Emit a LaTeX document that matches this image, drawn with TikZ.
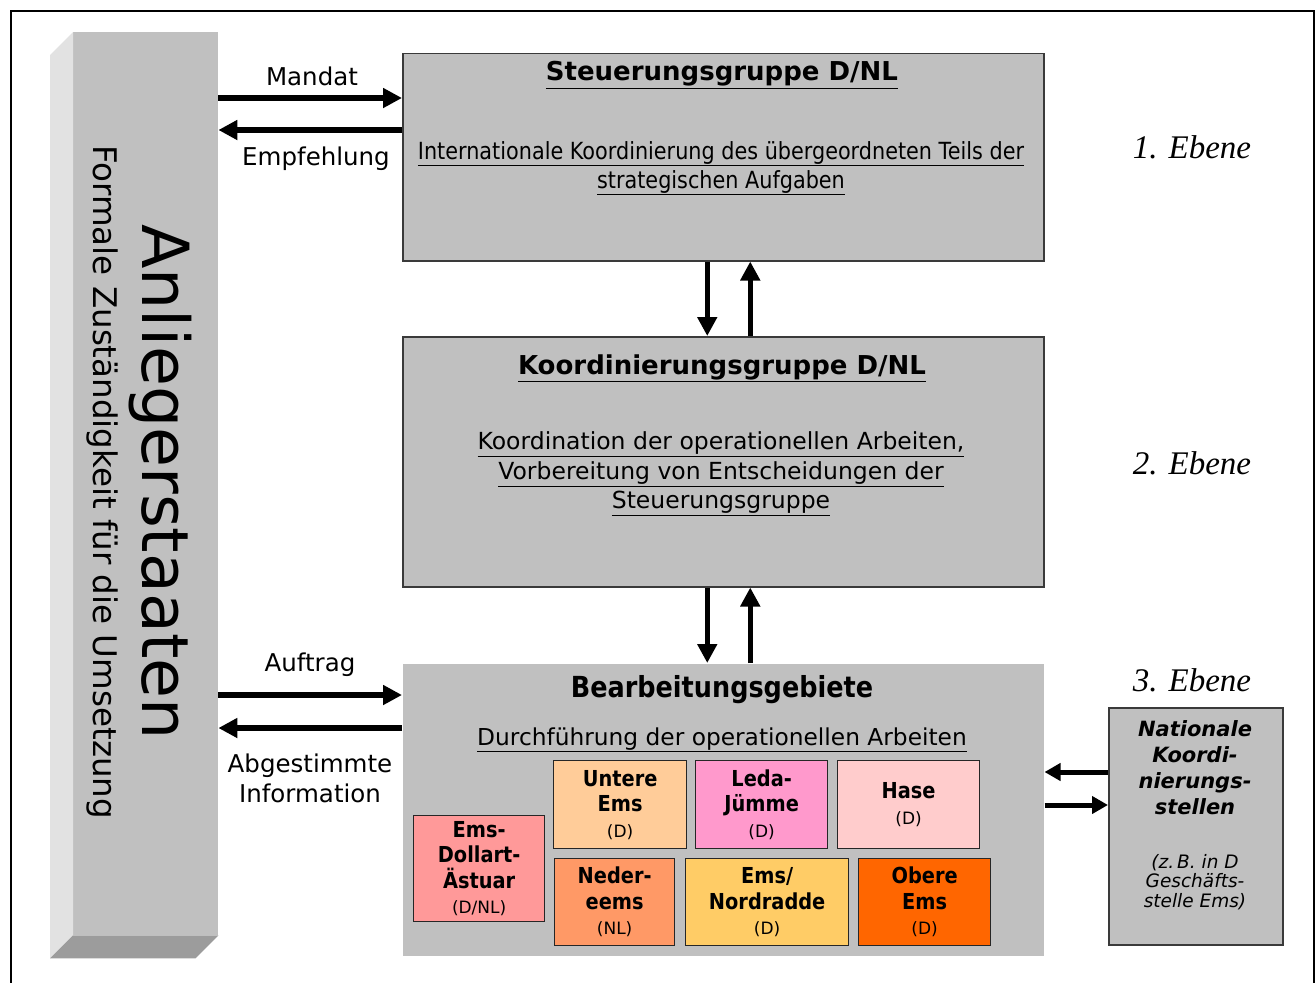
\documentclass[tikz,border=0pt]{standalone}
\usepackage{fontspec}
\setmainfont{DejaVu Sans}
\newfontfamily\tahoma{DejaVu Sans}[FakeStretch=0.88]
\newfontfamily\timesfont{Liberation Serif}
\usetikzlibrary{arrows.meta, calc, positioning}

\definecolor{boxgray}{HTML}{C0C0C0}
\definecolor{sidegray}{HTML}{E2E2E2}
\definecolor{footgray}{HTML}{9C9C9C}
\definecolor{framegray}{HTML}{3A3A3A}
\definecolor{emsdollart}{HTML}{FF9999}
\definecolor{untereems}{HTML}{FFCC99}
\definecolor{ledajuemme}{HTML}{FF99CC}
\definecolor{hase}{HTML}{FFCCCC}
\definecolor{nedereems}{HTML}{FF9966}
\definecolor{nordradde}{HTML}{FFCC66}
\definecolor{obereems}{HTML}{FF6600}

\newcommand\fs[2]{\fontsize{#1}{#2}\selectfont}
\newcommand\ulin[1]{\underline{#1\vphantom{g}}}

\tikzset{
  level/.style={draw=framegray, line width=1.5pt, fill=boxgray, anchor=north west, inner sep=0pt, minimum width=641pt},
  area/.style={draw=black!85, line width=1.3pt, anchor=north west, inner sep=0pt, align=center, font={\tahoma\fs{22}{25.5}}},
  flow/.style={line width=5.5pt, -{Triangle[length=19pt,width=19pt]}},
  smallflow/.style={line width=5pt, -{Triangle[length=16pt,width=17pt]}},
  label/.style={font={\fs{24.5}{30}}, align=center},
  ebene/.style={font={\timesfont\itshape\fs{33}{36}}},
  mark/.style={font={\normalfont\fs{17}{20}}}
}

\begin{document}
\begin{tikzpicture}[x=1pt, y=-1pt]
    \useasboundingbox (0,0) rectangle (1316,982);

    % frame
    \draw[line width=2pt] (11,995) -- (11,11) -- (1314,11) -- (1314,995);

    % Anliegerstaaten
    \node[fill=boxgray, anchor=north west, inner sep=0pt, minimum width=145pt, minimum height=903pt] (bar) at (73,32) {};
    \fill[sidegray] (bar.north west) -- (bar.south west) -- ++(-23,23) -- ($(bar.north west)+(-23,23)$) -- cycle;
    \fill[footgray] (bar.south west) -- (bar.south east) -- ++(-23,23) -- ($(bar.south west)+(-23,23)$) -- cycle;
    \node[rotate=-90, font={\fs{65}{70}}] (staaten) at (160,482) {Anliegerstaaten};
    \node[rotate=-90, font={\fs{32.5}{36}}] (formal) at (102,482) {Formale Zuständigkeit für die Umsetzung};

    % levels
    \node[level, minimum height=207pt] (steuer) at (402,53) {};
    \node[level, minimum height=250pt] (koord) at (402,336) {};
    \node[level, draw=none, minimum height=292pt] (bearb) at (402,663) {};

    \node[font={\bfseries\fs{26}{30}}] (steuerT) at (722,75) {\ulin{Steuerungsgruppe D/NL}};
    \node[font={\tahoma\fs{23.6}{29}}, align=center] (steuerB) at (721,168)
        {\ulin{Internationale Koordinierung des übergeordneten Teils der}\\\ulin{strategischen Aufgaben}};

    \node[font={\bfseries\fs{26}{30}}] (koordT) at (722,368) {\ulin{Koordinierungsgruppe D/NL}};
    \node[font={\fs{23.5}{29.5}}, align=center] (koordB) at (721,474)
        {\ulin{Koordination der operationellen Arbeiten,}\\\ulin{Vorbereitung von Entscheidungen der}\\\ulin{Steuerungsgruppe}};

    \node[font={\tahoma\bfseries\fs{29}{32}}] (bearbT) at (722,690) {Bearbeitungsgebiete};
    \node[font={\fs{23.3}{28}}] (bearbB) at (722,740) {\ulin{Durchführung der operationellen Arbeiten}};

    % Bearbeitungsgebiete
    \node[area, fill=emsdollart, minimum width=131pt, minimum height=106pt] (emsdollart) at (413,815)
        {\textbf{Ems-}\\\textbf{Dollart-}\\\textbf{Ästuar}\\{\normalfont\fs{17}{20}(D/NL)}};
    \node[area, fill=untereems, minimum width=133pt, minimum height=88pt] (untereems) at (553,760)
        {\textbf{Untere}\\\textbf{Ems}\\{\normalfont\fs{17}{20}(D)}};
    \node[area, fill=ledajuemme, minimum width=132pt, minimum height=88pt] (ledajuemme) at (695,760)
        {\textbf{Leda-}\\\textbf{Jümme}\\{\normalfont\fs{17}{20}(D)}};
    \node[area, fill=hase, minimum width=142pt, minimum height=88pt] (hase) at (837,760)
        {\textbf{Hase}\\{\normalfont\fs{17}{20}(D)}};
    \node[area, fill=nedereems, minimum width=120pt, minimum height=87pt] (nedereems) at (554,858)
        {\textbf{Neder-}\\\textbf{eems}\\{\normalfont\fs{17}{20}(NL)}};
    \node[area, fill=nordradde, minimum width=163pt, minimum height=87pt] (nordradde) at (685,858)
        {\textbf{Ems/}\\\textbf{Nordradde}\\{\normalfont\fs{17}{20}(D)}};
    \node[area, fill=obereems, minimum width=132pt, minimum height=87pt] (obereems) at (858,858)
        {\textbf{Obere}\\\textbf{Ems}\\{\normalfont\fs{17}{20}(D)}};

    % Nationale Koordinierungsstellen
    \node[level, minimum width=174pt, minimum height=237pt] (nat) at (1108,707) {};
    \node[font={\bfseries\itshape\fs{21}{26}}, align=center] (natname) at (1195,768) {Nationale\\Koordi-\\nierungs-\\stellen};
    \node[font={\itshape\fs{18.5}{19.5}}, align=center] (natbsp) at (1195,882) {(z.\,B. in D\\Geschäfts-\\stelle Ems)};

    % Ebenen
    \foreach \n/\y in {1/147, 2/463, 3/680}
        \node[ebene] (ebene\n) at (1192,\y) {\n. Ebene};

    % arrows
    \coordinate (mandat) at (0,98);
    \coordinate (empf) at (0,130);
    \coordinate (auftrag) at (0,695);
    \coordinate (info) at (0,728);
    \coordinate (natin) at (0,772);
    \coordinate (natout) at (0,805);

    \draw[flow] (bar.east |- mandat) -- (steuer.west |- mandat);
    \draw[flow] (steuer.west |- empf) -- (bar.east |- empf);
    \draw[flow] (bar.east |- auftrag) -- (bearb.west |- auftrag);
    \draw[flow] (bearb.west |- info) -- (bar.east |- info);
    \draw[smallflow] (nat.west |- natin) -- (bearb.east |- natin);
    \draw[smallflow] (bearb.east |- natout) -- (nat.west |- natout);

    \draw[flow, line width=5pt] ([xshift=-16pt]steuer.south) -- ([xshift=-16pt]koord.north);
    \draw[flow, line width=5pt] ([xshift=27pt]koord.north) -- ([xshift=27pt]steuer.south);
    \draw[flow, line width=5pt] ([xshift=-16pt]koord.south) -- ([xshift=-16pt]bearb.north);
    \draw[flow, line width=5pt] ([xshift=27pt]bearb.north) -- ([xshift=27pt]koord.south);

    \node[label] (mandatL) at (312,76) {Mandat};
    \node[label] (empfL) at (316,159) {Empfehlung};
    \node[label] (auftragL) at (310,665) {Auftrag};
    \node[label] (infoL) at (310,778) {Abgestimmte\\Information};
\end{tikzpicture}
\end{document}
